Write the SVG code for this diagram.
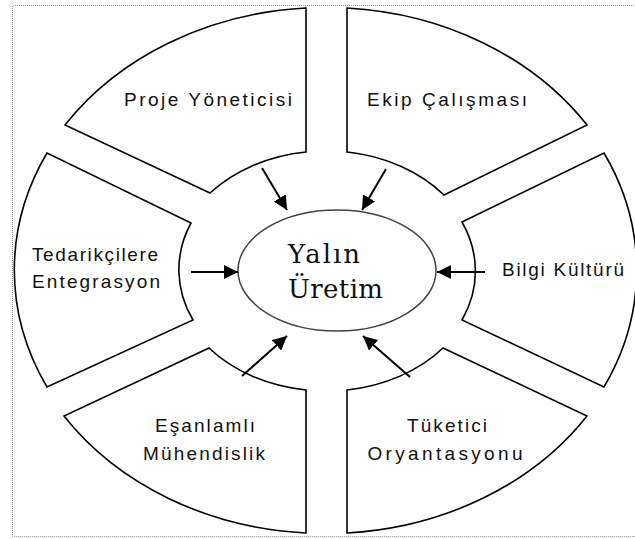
<svg xmlns="http://www.w3.org/2000/svg" width="635" height="539" viewBox="0 0 635 539">
<defs>
<style>
.frame{fill:none;stroke:#9a9a9a;stroke-width:1;stroke-dasharray:1 1}
.sec{fill:#fff;stroke:#000;stroke-width:1.6;stroke-linejoin:miter}
.lbl{font-family:"Liberation Sans",Arial,sans-serif;font-size:19px;fill:#111;text-anchor:middle}
.core{font-family:"DejaVu Serif","Liberation Serif",serif;font-size:26px;fill:#111}
.arr{stroke:#000;stroke-width:2;fill:none;marker-end:url(#ah)}
</style>
<marker id="ah" markerUnits="userSpaceOnUse" markerWidth="16" markerHeight="14" refX="14" refY="7" orient="auto">
<path d="M0,0 L14,7 L0,14 Z" fill="#000"/>
</marker>
</defs>
<rect width="635" height="539" fill="#fff"/>
<path class="frame" d="M642,5.5 H12.5 V536.5 H642"/>

<g id="proje">
<path class="sec" d="M306,8 A313,263 0 0 0 65,125 L210,193 A151,119 0 0 1 306,152 Z"/>
<text class="lbl" x="208" y="106" textLength="168" lengthAdjust="spacing">Proje Yöneticisi</text>
</g>
<g id="ekip">
<path class="sec" d="M347,8 L347,152 A151,119 0 0 1 444,195 L587,125 A313,263 0 0 0 347,8 Z"/>
<text class="lbl" x="447" y="106" textLength="160" lengthAdjust="spacing">Ekip Çalışması</text>
</g>
<g id="bilgi">
<path class="sec" d="M462,222 L604,153 A313,263 0 0 1 604,387 L462,320 A151,119 0 0 0 462,222 Z"/>
<text class="lbl" x="563" y="276" textLength="122" lengthAdjust="spacing">Bilgi Kültürü</text>
</g>
<g id="tuketici">
<path class="sec" d="M347,390 A151,119 0 0 0 443,348 L587,416 A313,263 0 0 1 347,533 Z"/>
<text class="lbl" x="447" y="432" textLength="80" lengthAdjust="spacing">Tüketici</text>
<text class="lbl" x="445" y="460" textLength="155" lengthAdjust="spacing">Oryantasyonu</text>
</g>
<g id="esanlamli">
<path class="sec" d="M306,390 L306,533 A313,263 0 0 1 64,416 L209,348 A151,119 0 0 0 306,390 Z"/>
<text class="lbl" x="205" y="432" textLength="100" lengthAdjust="spacing">Eşanlamlı</text>
<text class="lbl" x="204" y="460" textLength="122" lengthAdjust="spacing">Mühendislik</text>
</g>
<g id="tedarik">
<path class="sec" d="M191,223 L47,153 A313,263 0 0 0 47,387 L193,320 A151,119 0 0 1 191,223 Z"/>
<text class="lbl" x="95" y="261" textLength="126" lengthAdjust="spacing">Tedarikçilere</text>
<text class="lbl" x="96" y="288" textLength="128" lengthAdjust="spacing">Entegrasyon</text>
</g>
<g id="yalin">
<ellipse cx="337" cy="270.5" rx="99" ry="60.5" fill="#fff" stroke="#444" stroke-width="1.5"/>
<text class="core" x="288" y="263" textLength="72" lengthAdjust="spacing">Yalın</text>
<text class="core" x="288" y="298" textLength="95" lengthAdjust="spacing">Üretim</text>
</g>

<g id="connectors">
<line class="arr" x1="262" y1="168" x2="287" y2="210"/>
<line class="arr" x1="386" y1="169" x2="362" y2="210"/>
<line class="arr" x1="191" y1="272" x2="238" y2="272"/>
<line class="arr" x1="485" y1="272" x2="437" y2="272"/>
<line class="arr" x1="242" y1="376" x2="287" y2="336"/>
<line class="arr" x1="410" y1="377" x2="363" y2="336"/>
</g>
</svg>
